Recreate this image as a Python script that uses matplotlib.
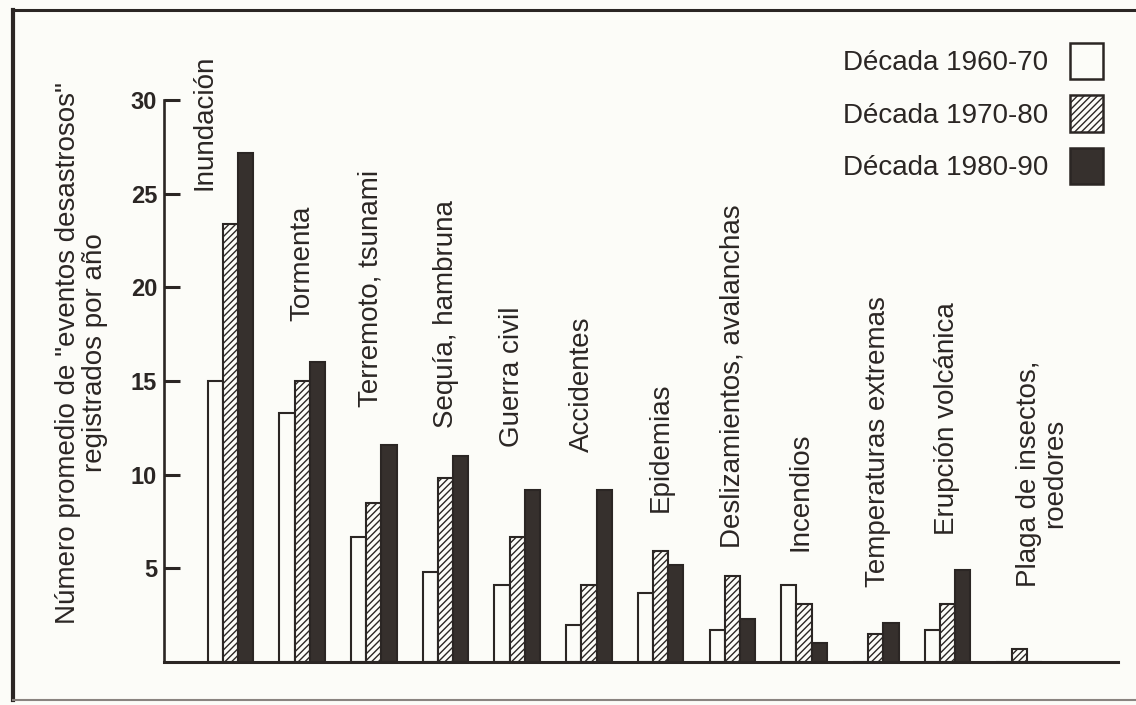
import numpy as np
import matplotlib
matplotlib.use("Agg")
import matplotlib.pyplot as plt
from matplotlib.lines import Line2D

# categorias (de mayor a menor) y promedio anual por decada
categorias = ['Inundación', 'Tormenta', 'Terremoto, tsunami', 'Sequía, hambruna',
              'Guerra civil', 'Accidentes', 'Epidemias', 'Deslizamientos, avalanchas',
              'Incendios', 'Temperaturas extremas', 'Erupción volcánica',
              'Plaga de insectos,\nroedores']
d1960 = [15.0, 13.3, 6.7, 4.8, 4.1, 2.0, 3.7, 1.7, 4.1, 0.0, 1.7, 0.0]
d1970 = [23.4, 15.0, 8.5, 9.8, 6.7, 4.1, 5.9, 4.6, 3.1, 1.5, 3.1, 0.7]
d1980 = [27.2, 16.0, 11.6, 11.0, 9.2, 9.2, 5.2, 2.3, 1.0, 2.1, 4.9, 0.0]
decadas = ['Década 1960-70', 'Década 1970-80', 'Década 1980-90']
yticks = [5, 10, 15, 20, 25, 30]
ylabel = 'Número promedio de "eventos desastrosos"\nregistrados por año'

# donde va cada rotulo (desplazamiento en x, base en y)
rot_dx = [-0.36, 0.0, -0.05, 0.0, -0.07, -0.1, 0.0, 0.0, -0.05, 0.03, 0.0, 0.32]
rot_y = [25.2, 18.2, 13.6, 12.5, 11.5, 11.2, 8.0, 6.1, 5.9, 4.0, 6.8, 4.0]

INK = '#2b2624'
DARK = '#36302d'
PAPER = '#fcfcf8'

plt.rcParams['font.family'] = ['Liberation Sans', 'DejaVu Sans']
plt.rcParams['hatch.linewidth'] = 1.0
plt.rcParams['hatch.color'] = INK

fig = plt.figure(figsize=(11.36, 7.05), dpi=100, facecolor=PAPER)
ax = fig.add_axes([0.1444, 0.061, 0.8398, 0.797])
ax.set_facecolor(PAPER)

x = np.arange(len(categorias))
w = 0.212
estilos = [dict(color=PAPER, hatch=None), dict(color=PAPER, hatch='/////'),
           dict(color=DARK, hatch=None)]
handles = []
for k, (serie, est) in enumerate(zip([d1960, d1970, d1980], estilos)):
    ax.bar(x + (k - 1) * w, serie, width=w, color=est['color'], hatch=est['hatch'],
           edgecolor=INK, linewidth=1.5, zorder=2)
    handles.append(plt.Rectangle((0, 0), 1, 1, facecolor=est['color'], hatch=est['hatch'],
                                 edgecolor=INK, linewidth=1.8))

for i, txt in enumerate(categorias):
    ax.text(x[i] + rot_dx[i], rot_y[i], txt, rotation=90, ha='center', va='bottom',
            fontsize=20, color=INK, multialignment='center', linespacing=1.0)

ax.set_xlim(-0.927, 12.38)
ax.set_ylim(0, 30)
ax.set_yticks(yticks)
ax.set_yticklabels([str(t) for t in yticks], fontsize=17, fontweight='bold', color=INK)
ax.set_xticks([])
ax.tick_params(axis='y', direction='in', length=11.5, width=2.2, color=INK, pad=5)
for s in ['top', 'right']:
    ax.spines[s].set_visible(False)
ax.spines['left'].set_linewidth(1.9)
ax.spines['left'].set_color(INK)
ax.spines['bottom'].set_linewidth(2.2)
ax.spines['bottom'].set_color(INK)

fig.text(0.072, 0.5, ylabel, rotation=90, ha='center', va='center', fontsize=20,
         color=INK, multialignment='center', linespacing=1.05)

leg = fig.legend(handles, decadas, loc='upper right', bbox_to_anchor=(0.971, 0.939),
                 bbox_transform=fig.transFigure, frameon=False, markerfirst=False,
                 fontsize=20, handlelength=1.18, handleheight=1.64, labelspacing=0.57,
                 handletextpad=0.79, borderpad=0, borderaxespad=0)
for t in leg.get_texts():
    t.set_color(INK)

# marco de la figura
fig.add_artist(Line2D([13 / 1136, 13 / 1136], [1 - 10 / 705, 1 - 700 / 705],
                      transform=fig.transFigure, color=INK, lw=3))
fig.add_artist(Line2D([13 / 1136, 1.0], [1 - 10 / 705, 1 - 10 / 705],
                      transform=fig.transFigure, color=INK, lw=2.2))
fig.add_artist(Line2D([13 / 1136, 1.0], [1 - 700 / 705, 1 - 700 / 705],
                      transform=fig.transFigure, color='#8a8480', lw=1.5))

fig.savefig('out.png', dpi=100, facecolor=PAPER)
